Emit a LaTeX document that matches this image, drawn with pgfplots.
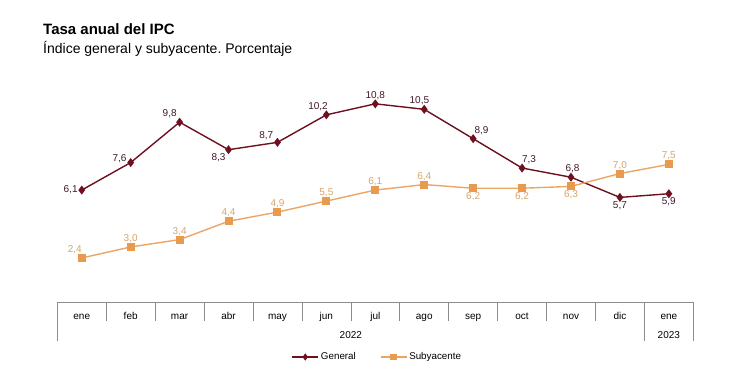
\documentclass[border=0pt]{standalone}
\usepackage{pgfplots}
\pgfplotsset{compat=1.18}
\usepackage{pgfplotstable}
\usepackage{fontspec}
\setmainfont{Liberation Sans}
\frenchspacing
\definecolor{gen}{HTML}{6E1020}
\definecolor{genlab}{HTML}{42182A}
\definecolor{sub}{HTML}{E89A4E}
\definecolor{subline}{HTML}{EBA564}
\definecolor{sublab}{HTML}{D8A468}
\definecolor{gridc}{HTML}{8C8C8C}

\pgfplotstableread{
x y a
0 6.1 0
1 7.6 -20
2 9.8 -40
3 8.3 40
4 8.7 -30
5 10.2 -45
6 10.8 -90
7 10.5 -60
8 8.9 -135
9 7.3 -130
10 6.8 -100
11 5.7 90
12 5.9 90
}\gendata

\pgfplotstableread{
x y a
0 2.4 -50
1 3.0 -90
2 3.4 -90
3 4.4 -90
4 4.9 -90
5 5.5 -90
6 6.1 -90
7 6.4 -90
8 6.2 90
9 6.2 90
10 6.3 90
11 7.0 -90
12 7.5 -90
}\subdata

\begin{document}
\begin{tikzpicture}
\path[use as bounding box] (0pt,0pt) rectangle (735pt,-369pt);
\node[anchor=base west, inner sep=0pt] at (43pt,-35pt) {\fontsize{15}{18}\selectfont\bfseries Tasa anual del IPC};
\node[anchor=base west, inner sep=0pt] at (43pt,-53pt) {\fontsize{14}{17}\selectfont Índice general y subyacente. Porcentaje};
\begin{axis}[
  at={(57.3pt,-302pt)}, anchor=south west,
  scale only axis, width=636pt, height=220.2pt,
  xmin=-0.5, xmax=12.5, ymin=0, ymax=12,
  axis y line=none, axis x line*=bottom,
  x axis line style={gridc,-, line width=0.6pt},
  xtick={0,...,12},
  xticklabels={ene,feb,mar,abr,may,jun,jul,ago,sep,oct,nov,dic,ene},
  major tick length=0pt,
  xticklabel style={anchor=base, yshift=-17pt, font=\fontsize{10}{12}\selectfont},
  clip=false,
  /pgf/number format/assume math mode=true,
  legend columns=2,
  legend style={at={(0.5,0)}, anchor=center, xshift=2pt, yshift=-55pt, draw=none, fill=none,
    font=\fontsize{9.8}{11}\selectfont,
    /tikz/every even column/.append style={column sep=22pt}},
  legend image code/.code={\draw[mark repeat=2,mark phase=2,#1] plot coordinates {(0pt,0pt)(13pt,0pt)(26pt,0pt)};},
]
\addplot[gen, line width=1.4pt, mark=diamond*, mark size=3.4pt, mark options={solid,fill=gen}, forget plot,
  point meta=explicit symbolic,
  nodes near coords={\pgfmathprintnumber[fixed,fixed zerofill,precision=1,use comma]{\pgfkeysvalueof{/data point/y}}},
  every node near coord/.append style={anchor=\pgfplotspointmeta, text=genlab, font=\fontsize{10}{12}\selectfont, inner sep=3.5pt}]
  table[x=x,y=y,meta=a]{\gendata};
\addplot[subline, line width=1.4pt, mark=square*, mark size=3.3pt, mark options={solid,fill=sub,draw=sub}, forget plot,
  point meta=explicit symbolic,
  nodes near coords={\pgfmathprintnumber[fixed,fixed zerofill,precision=1,use comma]{\pgfkeysvalueof{/data point/y}}},
  every node near coord/.append style={anchor=\pgfplotspointmeta, text=sublab, font=\fontsize{10}{12}\selectfont, inner sep=3.5pt}]
  table[x=x,y=y,meta=a]{\subdata};
\addlegendimage{gen, line width=1.4pt, mark=diamond*, mark size=2.5pt, mark options={solid,fill=gen}}
\addlegendentry{General}
\addlegendimage{subline, line width=1.4pt, mark=square*, mark size=2.5pt, mark options={solid,fill=sub,draw=sub}}
\addlegendentry{Subyacente}
\pgfplotsinvokeforeach{0.5,1.5,2.5,3.5,4.5,5.5,6.5,7.5,8.5,9.5,10.5}{
  \draw[gridc, line width=0.6pt] (axis cs:#1,0) -- ([yshift=-18.7pt]axis cs:#1,0);
}
\pgfplotsinvokeforeach{-0.5,11.5,12.5}{
  \draw[gridc, line width=0.6pt] (axis cs:#1,0) -- ([yshift=-38.7pt]axis cs:#1,0);
}
\node[anchor=base, font=\fontsize{10}{12}\selectfont] at ([yshift=-36pt]axis cs:5.5,0) {2022};
\node[anchor=base, font=\fontsize{10}{12}\selectfont] at ([yshift=-36pt]axis cs:12,0) {2023};
\end{axis}
\end{tikzpicture}
\end{document}
